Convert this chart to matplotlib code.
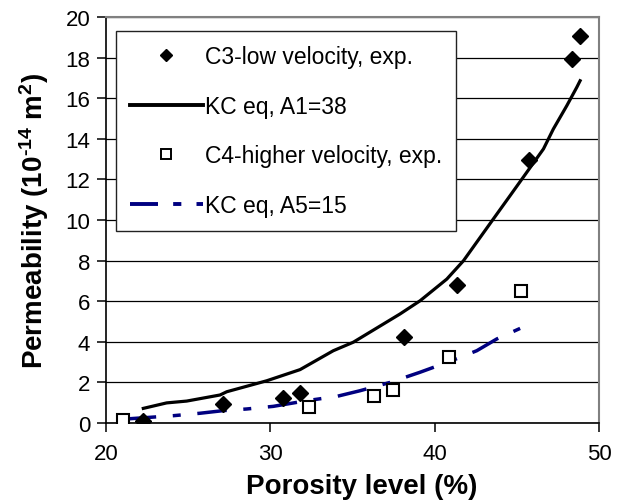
import matplotlib
matplotlib.use("Agg")
import matplotlib.pyplot as plt
from matplotlib.lines import Line2D

plt.rcParams['font.family'] = ['Liberation Sans', 'DejaVu Sans']
plt.rcParams['mathtext.fontset'] = 'custom'
plt.rcParams['mathtext.rm'] = 'Liberation Sans:bold'
plt.rcParams['mathtext.bf'] = 'Liberation Sans:bold'
plt.rcParams['mathtext.it'] = 'Liberation Sans:bold'

# C3 low velocity experimental
c3_x = [22.27, 27.14, 30.79, 31.81, 38.16, 41.35, 45.76, 48.34, 48.85]
c3_y = [0.11, 0.94, 1.23, 1.46, 4.25, 6.80, 12.96, 17.93, 19.05]
# C4 higher velocity experimental
c4_x = [21.05, 32.37, 36.31, 37.45, 40.89, 45.24]
c4_y = [0.15, 0.77, 1.31, 1.64, 3.23, 6.52]
# KC eq, A1=38
kc1_x = [22.27, 23.69, 24.91, 26.94, 27.35, 29.78, 31.81, 33.83, 35.05, 37.89,
         39.11, 40.74, 41.75, 43.57, 44.59, 46.62, 47.22, 48.04, 48.65, 48.85]
kc1_y = [0.72, 0.99, 1.08, 1.38, 1.54, 2.08, 2.63, 3.56, 3.98, 5.37,
         6.02, 7.09, 7.99, 10.05, 11.2, 13.5, 14.48, 15.63, 16.54, 16.86]
# KC eq, A5=15
kc5_x = [21.26, 24.10, 25.72, 27.14, 28.56, 30.18, 32.22, 34.04, 35.46, 37.29,
         39.11, 40.94, 42.56, 43.78, 45.20]
kc5_y = [0.20, 0.36, 0.48, 0.61, 0.69, 0.82, 1.10, 1.31, 1.59, 2.00,
         2.50, 3.04, 3.56, 4.14, 4.66]

labels = ['C3-low velocity, exp.', 'KC eq, A1=38',
          'C4-higher velocity, exp.', 'KC eq, A5=15']
xticks = [20, 30, 40, 50]
yticks = list(range(0, 21, 2))

fig = plt.figure(figsize=(6.4, 5.02), dpi=100)
ax = fig.add_axes([106/640, 1-424/502, (599-106)/640, (424-18)/502])

ax.set_xlim(20, 50)
ax.set_ylim(0, 20)
ax.set_xticks(xticks)
ax.set_yticks(yticks)
ax.yaxis.grid(True, color='black', linewidth=0.9)
ax.set_axisbelow(True)

navy = '#000080'

ax.plot(c3_x, c3_y, linestyle='none', marker='D', markersize=8.5,
        color='black', zorder=4)
ax.plot(kc1_x, kc1_y, color='black', linewidth=2.3, zorder=3)
ax.plot(c4_x, c4_y, linestyle='none', marker='s', markersize=8,
        markerfacecolor='white', markeredgecolor='black',
        markeredgewidth=1.5, zorder=4)
ax.plot(kc5_x, kc5_y, color=navy, linewidth=2.5, zorder=3,
        dashes=(8.5, 4.8, 2.3, 4.8))

for s in ['top', 'right']:
    ax.spines[s].set_color('#808080')
    ax.spines[s].set_linewidth(1.5)
for s in ['left', 'bottom']:
    ax.spines[s].set_color('black')
    ax.spines[s].set_linewidth(1.2)

ax.tick_params(axis='both', direction='out', length=6.3, width=1.1,
               labelsize=16, colors='black')
ax.tick_params(axis='y', pad=5)
ax.tick_params(axis='x', pad=8)

ax.set_xlabel('Porosity level (%)', fontsize=20, fontweight='bold')
ax.xaxis.set_label_coords(0.518, -0.122)
ax.set_ylabel(r'Permeability (10$^{\text{-14}}$ m$^{\text{2}}$)',
              fontsize=20, fontweight='bold')
ax.yaxis.set_label_coords(-0.112, 0.5)

h1 = Line2D([], [], linestyle='none', marker='D', markersize=6.6, color='black')
h3 = Line2D([], [], linestyle='none', marker='s', markersize=6.8,
            markerfacecolor='white', markeredgecolor='black', markeredgewidth=1.4)
h2 = Line2D([], [], color='black', linewidth=2.8)
h4 = Line2D([], [], color=navy, linewidth=2.8, dashes=(7.2, 3.9, 2.1, 3.9))

leg = ax.legend([h1, h2, h3, h4], labels, loc='upper left',
                bbox_to_anchor=(116/640, 1-32/502), bbox_transform=fig.transFigure,
                fontsize=16.5, frameon=True, fancybox=False, framealpha=1,
                edgecolor='#222222', borderpad=0.6, labelspacing=1.17,
                handlelength=3.2, handletextpad=0.1, borderaxespad=0)
leg.get_frame().set_linewidth(1.0)
leg.set_zorder(5)

fig.savefig('out.png', dpi=100)
